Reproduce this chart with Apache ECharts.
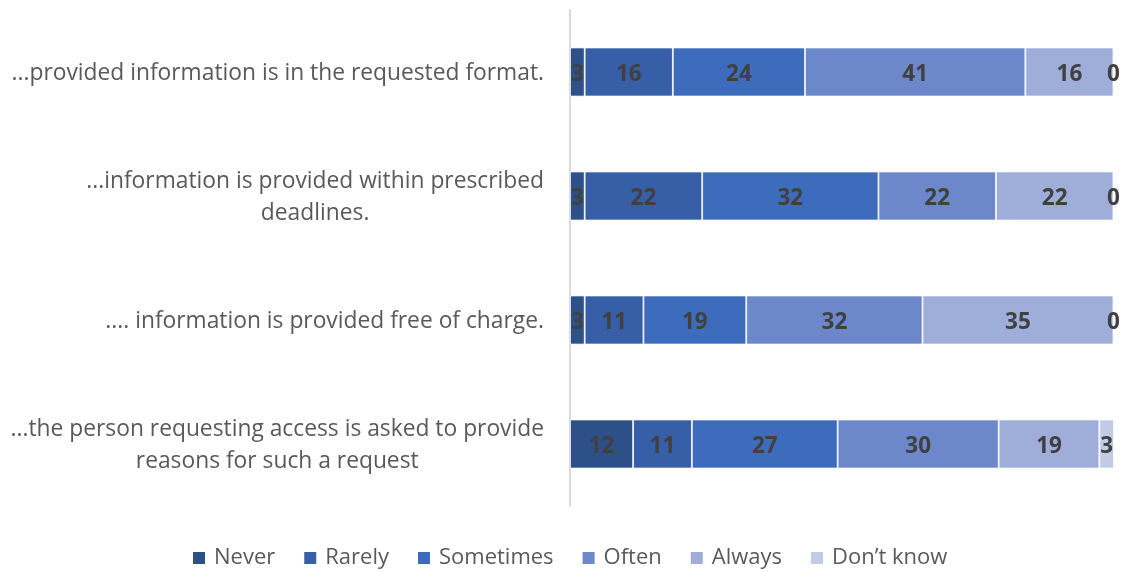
<!DOCTYPE html>
<html><head><meta charset="utf-8">
<script src="https://cdn.jsdelivr.net/npm/echarts@6/dist/echarts.min.js"></script>
<style>html,body{margin:0;padding:0;background:#fff}#c{width:1124px;height:572px}</style>
</head><body><div id="c"></div>
<script>
const categories = [
  "...provided information is in the requested format.",
  "...information is provided within prescribed\ndeadlines.",
  ".... information is provided free of charge.",
  "...the person requesting access is asked to provide\nreasons for such a request"
];
const seriesNames = ["Never", "Rarely", "Sometimes", "Often", "Always", "Don’t know"];
const colors = ["#2E5088", "#365FA7", "#3E6CBD", "#6C88CA", "#9EAED9", "#C1CBE6"];
const never     = [2.7, 2.7, 2.7, 11.6];
const rarely    = [16.2, 21.6, 10.8, 10.8];
const sometimes = [24.3, 32.4, 18.9, 26.8];
const often     = [40.5, 21.6, 32.4, 29.6];
const always    = [16.2, 21.6, 35.1, 18.5];
const dontKnow  = [0, 0, 0, 2.7];
const values = [never, rarely, sometimes, often, always, dontKnow];

const chart = echarts.init(document.getElementById('c'));
const font = "'Open Sans', sans-serif";
chart.setOption({
  animation: false,
  textStyle: {fontFamily: font},
  grid: {left: 570, right: 10, top: 10, bottom: 66},
  legend: {
    top: 542, left: 186, itemWidth: 14, itemHeight: 14, itemGap: 27,
    icon: 'rect',
    textStyle: {fontSize: 22, color: '#595959', fontFamily: font, padding: [0, 0, 0, 3]},
    data: seriesNames
  },
  xAxis: {type: 'value', min: 0, max: 100, show: false},
  yAxis: {
    type: 'category', inverse: true, data: categories,
    axisLine: {show: true, lineStyle: {color: '#d9d9d9', width: 2}},
    axisTick: {show: false},
    axisLabel: {
      margin: 26, align: 'right', color: '#595959', fontSize: 22.8, fontFamily: font,
      lineHeight: 32, padding: [4, 0, 0, 0],
      formatter: v => v.split('\n').map(l => '{c|' + l + '}').join('\n'),
      rich: {c: {align: 'center', color: '#595959', fontSize: 22.8, fontFamily: font, lineHeight: 32}}
    }
  },
  series: seriesNames.map((n, i) => ({
    name: n, type: 'bar', stack: 'all', barWidth: 49,
    data: values[i],
    itemStyle: {color: colors[i], borderColor: '#fff', borderWidth: 0.8},
    label: {
      show: true, position: 'inside', color: '#404040', fontWeight: 'bold',
      fontSize: 22.5, fontFamily: font, offset: [0, 3],
      formatter: p => Math.round(p.value)
    }
  }))
});
</script></body></html>
